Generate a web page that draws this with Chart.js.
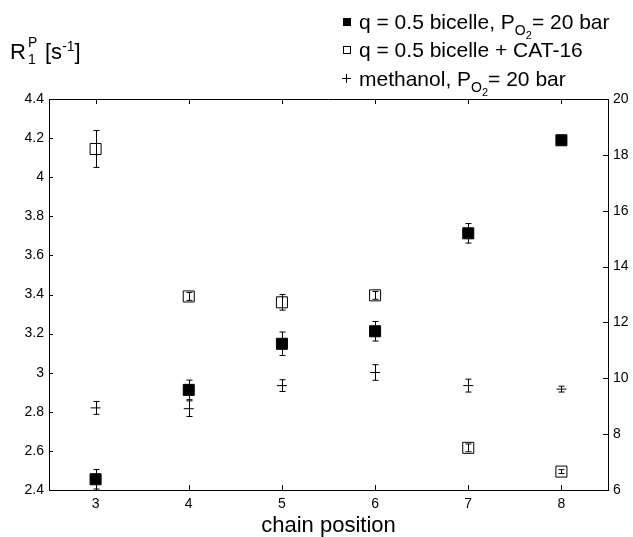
<!DOCTYPE html>
<html>
<head>
<meta charset="utf-8">
<script src="https://cdn.jsdelivr.net/npm/chart.js@4.4.0/dist/chart.umd.min.js"></script>
<style>
    body { margin: 0; background: #fff; font-family: "Liberation Sans", Arial, sans-serif; color: #000; }
    #wrap { position: relative; width: 633px; height: 537px; }
    #chart { position: absolute; left: 0; top: 0; }
    .row { position: absolute; left: 343px; height: 22px; line-height: 22px; font-size: 21px; white-space: nowrap; }
    .mark { position: absolute; left: 0; top: 7px; width: 8px; height: 8px; box-sizing: border-box; }
    .mark.filled { background: #000; }
    .mark.open { border: 1px solid #000; background: #fff; }
    .mark.plus { width: 9px; height: 9px; top: 6px; left: -1px; }
    .mark.plus::before { content: ''; position: absolute; left: 0; top: 4px; width: 9px; height: 1px; background: #000; }
    .mark.plus::after { content: ''; position: absolute; left: 4px; top: 0; width: 1px; height: 9px; background: #000; }
    .txt { position: absolute; left: 16px; top: 0; }
    .sub1 { font-size: 14px; position: relative; top: 6px; }
    .sub2 { font-size: 11px; position: relative; top: 4px; }
    #ytitle { position: absolute; left: 10px; top: 39px; font-size: 22px; line-height: 22px; white-space: nowrap; }
    .ss { display: inline-block; position: relative; width: 13px; height: 20px; }
    .ss .sp { position: absolute; left: 2px; top: -8px; font-size: 14px; }
    .ss .sb { position: absolute; left: 2px; top: 9px; font-size: 14px; }
    .sup { font-size: 14px; position: relative; top: -8px; }
</style>
</head>
<body>
<div id="wrap">
    <canvas id="chart" width="633" height="537"></canvas>
    <div id="ytitle">R<span class="ss"><span class="sp">P</span><span class="sb">1</span></span> [s<span class="sup">-1</span>]</div>
    <div class="row" style="top:11px"><span class="mark filled"></span><span class="txt">q = 0.5 bicelle, P<span class="sub1">O<span class="sub2">2</span></span>= 20 bar</span></div>
    <div class="row" style="top:39px"><span class="mark open"></span><span class="txt">q = 0.5 bicelle + CAT-16</span></div>
    <div class="row" style="top:68px"><span class="mark plus"></span><span class="txt">methanol, P<span class="sub1">O<span class="sub2">2</span></span>= 20 bar</span></div>
</div>
<script>
// data
const chainPositions = [3, 4, 5, 6, 7, 8];

// q = 0.5 bicelle, PO2 = 20 bar (left axis)
const bicelleO2 = [2.455, 2.912, 3.148, 3.212, 3.713, 4.189];
const bicelleO2Err = [0.05, 0.05, 0.06, 0.05, 0.05, 0];

// q = 0.5 bicelle + CAT-16 (right axis)
const bicelleCat16 = [18.21, 12.93, 12.72, 12.97, 7.51, 6.66];
const bicelleCat16Err = [0.66, 0.14, 0.28, 0.14, 0.14, 0.07];

// methanol, PO2 = 20 bar (left axis)
const methanolO2 = [2.82, 2.816, 2.934, 3.001, 2.934, 2.916];
const methanolO2Err = [0.033, 0.04, 0.03, 0.04, 0.033, 0.015];

const leftTicks = [2.4, 2.6, 2.8, 3, 3.2, 3.4, 3.6, 3.8, 4, 4.2, 4.4];
const rightTicks = [6, 8, 10, 12, 14, 16, 18, 20];

const toPoints = ys => ys.map((y, i) => ({ x: chainPositions[i], y: y }));

const tickFont = { family: '"Liberation Sans", Arial, sans-serif', size: 14 };

// error bars + inward ticks + top frame line
const extras = {
    id: 'extras',
    afterDatasetsDraw(chart) {
        const ctx = chart.ctx;
        ctx.save();
        ctx.strokeStyle = '#000';
        ctx.lineWidth = 1;
        chart.data.datasets.forEach((ds, di) => {
            const meta = chart.getDatasetMeta(di);
            const yScale = chart.scales[ds.yAxisID];
            ds.data.forEach((pt, i) => {
                const e = ds.errors[i];
                if (!e) return;
                const x = Math.round(meta.data[i].x) + 0.5;
                const yTop = yScale.getPixelForValue(pt.y + e);
                const yBot = yScale.getPixelForValue(pt.y - e);
                ctx.beginPath();
                ctx.moveTo(x, yTop); ctx.lineTo(x, yBot);
                ctx.moveTo(x - 3, yTop); ctx.lineTo(x + 3, yTop);
                ctx.moveTo(x - 3, yBot); ctx.lineTo(x + 3, yBot);
                ctx.stroke();
            });
        });
        ctx.restore();
    },
    afterDraw(chart) {
        const ctx = chart.ctx;
        const a = chart.chartArea;
        const { x, yL, yR } = chart.scales;
        ctx.save();
        ctx.strokeStyle = '#000';
        ctx.lineWidth = 1;
        ctx.beginPath();
        ctx.moveTo(a.left, Math.round(a.top) + 0.5);
        ctx.lineTo(a.right, Math.round(a.top) + 0.5);
        chainPositions.forEach(v => {
            const px = Math.round(x.getPixelForValue(v)) + 0.5;
            ctx.moveTo(px, a.bottom); ctx.lineTo(px, a.bottom - 5);
            ctx.moveTo(px, a.top); ctx.lineTo(px, a.top + 5);
        });
        leftTicks.forEach(v => {
            const py = Math.round(yL.getPixelForValue(v)) + 0.5;
            ctx.moveTo(a.left, py); ctx.lineTo(a.left + 4, py);
        });
        rightTicks.forEach(v => {
            const py = Math.round(yR.getPixelForValue(v)) + 0.5;
            ctx.moveTo(a.right, py); ctx.lineTo(a.right - 5, py);
        });
        ctx.stroke();
        ctx.restore();
    }
};

new Chart(document.getElementById('chart'), {
    type: 'scatter',
    data: {
        datasets: [
            {
                label: 'q = 0.5 bicelle, PO2 = 20 bar',
                data: toPoints(bicelleO2),
                errors: bicelleO2Err,
                yAxisID: 'yL',
                pointStyle: 'rect',
                pointRadius: 7.8,
                backgroundColor: '#000',
                borderColor: '#000',
                borderWidth: 1
            },
            {
                label: 'q = 0.5 bicelle + CAT-16',
                data: toPoints(bicelleCat16),
                errors: bicelleCat16Err,
                yAxisID: 'yR',
                pointStyle: 'rect',
                pointRadius: 7.8,
                backgroundColor: 'rgba(0,0,0,0)',
                borderColor: '#000',
                borderWidth: 1
            },
            {
                label: 'methanol, PO2 = 20 bar',
                data: toPoints(methanolO2),
                errors: methanolO2Err,
                yAxisID: 'yL',
                pointStyle: 'line',
                pointRadius: 5,
                borderColor: '#000',
                borderWidth: 1
            }
        ]
    },
    options: {
        responsive: false,
        animation: false,
        events: [],
        layout: { padding: { top: 99, left: 0, right: 0, bottom: 0 } },
        plugins: {
            legend: { display: false },
            tooltip: { enabled: false }
        },
        scales: {
            x: {
                type: 'linear',
                min: 2.5,
                max: 8.5,
                afterBuildTicks: s => { s.ticks = chainPositions.map(v => ({ value: v })); },
                afterFit: s => { s.height = 47; },
                grid: { display: false, drawTicks: false },
                border: { display: true, color: '#000', width: 1 },
                ticks: { color: '#000', font: tickFont, padding: 6, maxRotation: 0 },
                title: {
                    display: true,
                    text: 'chain position',
                    color: '#000',
                    font: { family: '"Liberation Sans", Arial, sans-serif', size: 22, lineHeight: 1 },
                    padding: 0
                }
            },
            yL: {
                type: 'linear',
                position: 'left',
                min: 2.4,
                max: 4.4,
                afterBuildTicks: s => { s.ticks = leftTicks.map(v => ({ value: v })); },
                afterFit: s => { s.width = 49; },
                grid: { display: false, drawTicks: false },
                border: { display: true, color: '#000', width: 1 },
                ticks: {
                    color: '#000', font: tickFont, padding: 5,
                    callback: v => String(Number(v.toFixed(1)))
                }
            },
            yR: {
                type: 'linear',
                position: 'right',
                min: 6,
                max: 20,
                afterBuildTicks: s => { s.ticks = rightTicks.map(v => ({ value: v })); },
                afterFit: s => { s.width = 25; },
                grid: { display: false, drawTicks: false },
                border: { display: true, color: '#000', width: 1 },
                ticks: { color: '#000', font: tickFont, padding: 5 }
            }
        }
    },
    plugins: [extras]
});
</script>
</body>
</html>
